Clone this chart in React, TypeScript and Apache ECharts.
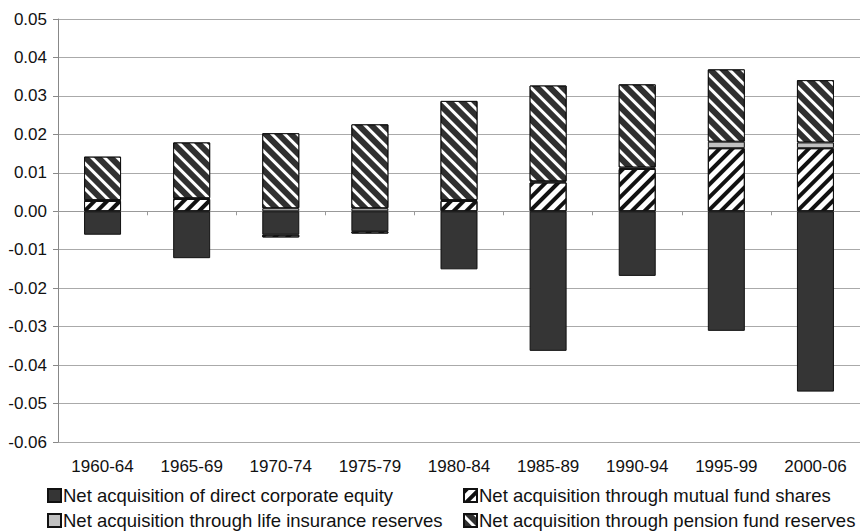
import React, { useEffect, useRef } from "react";
import * as echarts from "echarts";

const categories = ["1960-64", "1965-69", "1970-74", "1975-79", "1980-84", "1985-89", "1990-94", "1995-99", "2000-06"];
const directEquity = [-0.0061, -0.0122, -0.0061, -0.0052, -0.0151, -0.0363, -0.0168, -0.0311, -0.0469];
const mutualFund = [0.0027, 0.0032, -0.0007, -0.0006, 0.0027, 0.0075, 0.011, 0.0164, 0.0164];
const lifeInsurance = [0.0002, 0.0002, 0.0008, 0.0008, 0.0002, 0.0003, 0.0004, 0.0017, 0.0015];
const pension = [0.0113, 0.0145, 0.0195, 0.0218, 0.0258, 0.0249, 0.0216, 0.0188, 0.0162];
const yTicks = { min: -0.06, max: 0.05, step: 0.01 };
const seriesNames = [
  "Net acquisition of direct corporate equity",
  "Net acquisition through mutual fund shares",
  "Net acquisition through life insurance reserves",
  "Net acquisition through pension fund reserves",
];

const FONT = "Liberation Sans, Arial, sans-serif";

export default function App() {
  const ref = useRef<HTMLDivElement>(null);
  useEffect(() => {
    if (!ref.current) return;
    const chart = echarts.init(ref.current, null, { renderer: "svg" });
    const border = { borderColor: "#111", borderWidth: 1 };
    const common = { type: "bar", stack: "total", barWidth: 37, xAxisIndex: 0 };
    const legendPos = [
      { left: 47, top: 486 },
      { left: 463, top: 486 },
      { left: 47, top: 511 },
      { left: 463, top: 511 },
    ];
    chart.setOption({
      animation: false,
      backgroundColor: "#fff",
      textStyle: { fontFamily: FONT },
      grid: { left: 58, right: -2, top: 19, bottom: 90, containLabel: false },
      legend: seriesNames.map((n, i) => ({
        ...legendPos[i],
        orient: "horizontal",
        itemWidth: 13,
        itemHeight: 13,
        itemGap: 0,
        icon: "rect",
        padding: 0,
        textStyle: { fontSize: 18.5, color: "#111", fontFamily: FONT, padding: [0, 0, 0, -3] },
        data: [n],
      })),
      xAxis: [
        {
          type: "category",
          data: categories,
          position: "bottom",
          axisLine: { show: false, onZero: false },
          axisTick: { show: false },
          axisLabel: { fontSize: 17, color: "#111", margin: 16, fontFamily: FONT },
          splitLine: { show: false },
        },
        {
          type: "category",
          data: categories,
          position: "top",
          axisLine: { show: true, onZero: true, lineStyle: { color: "#999", width: 1 } },
          axisTick: { show: true, inside: true, length: 4, lineStyle: { color: "#999" } },
          axisLabel: { show: false },
          splitLine: { show: false },
        },
      ],
      yAxis: {
        type: "value",
        min: yTicks.min,
        max: yTicks.max,
        interval: yTicks.step,
        axisLine: { show: true, lineStyle: { color: "#888", width: 1 } },
        axisTick: { show: true, length: 5, lineStyle: { color: "#888" } },
        axisLabel: {
          fontSize: 17, color: "#111", margin: 11, fontFamily: FONT,
          formatter: (v: number) => (Math.abs(v) < 1e-9 ? "0.00" : v.toFixed(2)),
        },
        splitLine: { show: true, lineStyle: { color: "#aaa", width: 1 } },
      },
      series: [
        {
          ...common,
          name: seriesNames[0],
          data: directEquity,
          itemStyle: { color: "#353535", ...border },
        },
        {
          ...common,
          name: seriesNames[1],
          data: mutualFund,
          itemStyle: {
            color: "#ffffff", ...border,
            decal: { symbol: "rect", symbolSize: 1, color: "#111", dashArrayX: [1, 0], dashArrayY: [4, 5], rotation: -Math.PI / 4 },
          },
        },
        {
          ...common,
          name: seriesNames[2],
          data: lifeInsurance,
          itemStyle: { color: "#c0c0c0", ...border },
        },
        {
          ...common,
          name: seriesNames[3],
          data: pension,
          itemStyle: {
            color: "#303030", ...border,
            decal: { symbol: "rect", symbolSize: 1, color: "#ffffff", dashArrayX: [1, 0], dashArrayY: [3, 6], rotation: Math.PI / 4 },
          },
        },
      ],
    });
    return () => chart.dispose();
  }, []);
  return <div ref={ref} style={{ position: "fixed", left: 0, top: 0, width: 860, height: 532, background: "#fff" }} />;
}
